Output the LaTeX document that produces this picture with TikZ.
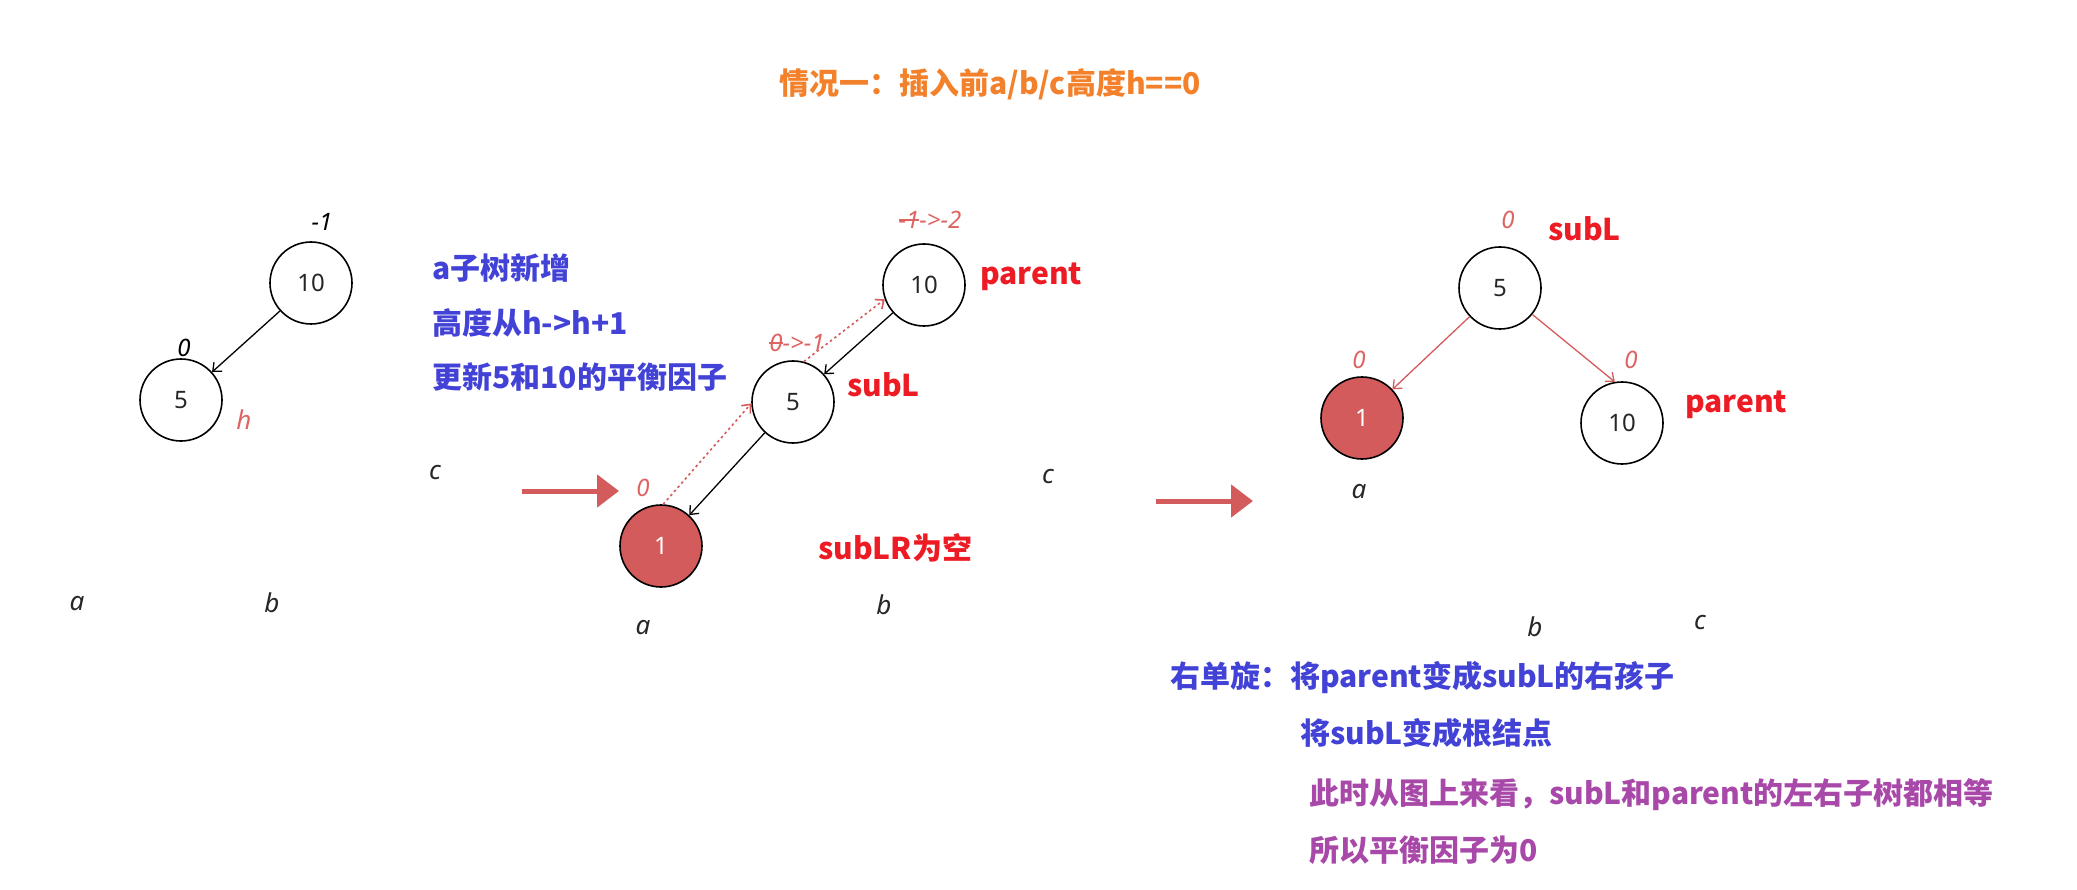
\documentclass[tikz,border=0pt]{standalone}
\usepackage{fontspec}
\setmainfont{Noto Sans}
\newfontfamily\cjk{Noto Sans CJK SC}
\usetikzlibrary{arrows.meta}
\definecolor{nodered}{RGB}{211,91,91}
\definecolor{lblred}{RGB}{222,100,100}
\definecolor{txtred}{RGB}{237,28,36}
\definecolor{txtblue}{RGB}{66,66,214}
\definecolor{txtpurple}{RGB}{168,72,168}
\definecolor{txtorange}{RGB}{243,129,43}
\newcommand\strk[1]{\setbox0\hbox{#1}\rlap{\rule[0.33em]{\wd0}{1.3pt}}\box0}
\begin{document}
\begin{tikzpicture}[x=1pt,y=-1pt,
  nd/.style={circle,draw=black,line width=1.6pt,minimum size=82pt,inner sep=0pt,text=black!85,font=\fontsize{24}{24}\selectfont},
  ndred/.style={nd,fill=nodered,text=white},
  blk/.style={draw=black,line width=1.3pt,-{Straight Barb[length=7pt,width=12pt]}},
  redarr/.style={draw=nodered,line width=1.3pt,-{Straight Barb[length=7pt,width=12pt]}},
  dotarr/.style={draw=nodered,line width=1.6pt,dash pattern=on 2.5pt off 3pt,-{Straight Barb[length=7pt,width=12pt]}},
  bigarr/.style={draw=nodered,line width=5pt,-{Triangle[length=22pt,width=32pt]}},
  bf/.style={font=\fontsize{24}{24}\selectfont\itshape,inner sep=0pt},
  bfred/.style={bf,text=lblred},
  sub/.style={font=\fontsize{26}{26}\selectfont\itshape,inner sep=0pt,text=black!85},
  cn/.style={font=\fontsize{30}{36}\selectfont\cjk\bfseries,inner sep=0pt,anchor=west},
  redtxt/.style={cn,text=txtred},
  bluetxt/.style={cn,text=txtblue},
  purtxt/.style={cn,text=txtpurple}
]
\useasboundingbox (0,0) rectangle (2077,890);

% title
\node[cn,anchor=center,text=txtorange] (title) at (990,84) {情况一：插入前a/b/c高度h==0};

% left tree
\node[nd] (l10) at (311,283) {10};
\node[nd] (l5) at (181,400) {5};
\draw[blk] (l10) -- (l5);
\node[bf] (lbf10) at (322,222) {-1};
\node[bf] (lbf5) at (184,348) {0};
\node[bfred,font=\fontsize{26}{26}\selectfont\itshape] (lh) at (244,420) {h};
\node[sub] (la) at (77,604) {a};
\node[sub] (lb) at (272,603) {b};
\node[sub] (lc) at (435,473) {c};

% blue notes
\node[bluetxt] (n1) at (432,268) {a子树新增};
\node[bluetxt] (n2) at (432,323) {高度从h->h+1};
\node[bluetxt] (n3) at (432,377) {更新5和10的平衡因子};

% arrow 1
\coordinate (a1s) at (522,491);
\coordinate (a1e) at (619,491);
\draw[bigarr] (a1s) -- (a1e);

% middle tree
\node[nd] (m10) at (924,285) {10};
\node[nd] (m5) at (793,402) {5};
\node[ndred] (m1) at (661,546) {1};
\draw[blk] (m10) -- (m5);
\draw[blk] (m5) -- (m1);
\draw[dotarr] (m1.87) -- (m5.182);
\draw[dotarr] (m5.75) -- (m10.200);
\node[bfred] (mbf10) at (930,220) {\strk{-1}->-2};
\node[bfred] (mbf5) at (797,343) {\strk{0}->-1};
\node[bfred] (mbf1) at (643,488) {0};
\node[redtxt] (mparent) at (980,277) {parent};
\node[redtxt] (msubl) at (847,385) {subL};
\node[redtxt] (msublr) at (818,548) {subLR为空};
\node[sub] (ma) at (643,628) {a};
\node[sub] (mb) at (884,605) {b};
\node[sub] (mc) at (1048,477) {c};

% arrow 2
\coordinate (a2s) at (1156,501);
\coordinate (a2e) at (1253,501);
\draw[bigarr] (a2s) -- (a2e);

% right tree
\node[nd] (r5) at (1500,288) {5};
\node[ndred] (r1) at (1362,418) {1};
\node[nd] (r10) at (1622,423) {10};
\draw[redarr] (r5) -- (r1);
\draw[redarr] (r5) -- (r10.100);
\node[bfred] (rbf5) at (1508,220) {0};
\node[bfred] (rbf1) at (1359,360) {0};
\node[bfred] (rbf10) at (1631,360) {0};
\node[redtxt] (rsubl) at (1548,229) {subL};
\node[redtxt] (rparent) at (1685,405) {parent};
\node[sub] (ra) at (1359,492) {a};
\node[sub] (rb) at (1535,627) {b};
\node[sub] (rc) at (1700,623) {c};

% bottom notes
\node[bluetxt] (b1) at (1170,678) {右单旋：将parent变成subL的右孩子};
\node[bluetxt] (b2) at (1300,733) {将subL变成根结点};
\node[purtxt] (p1) at (1309,795) {此时从图上来看，subL和parent的左右子树都相等};
\node[purtxt] (p2) at (1309,850) {所以平衡因子为0};
\end{tikzpicture}
\end{document}
